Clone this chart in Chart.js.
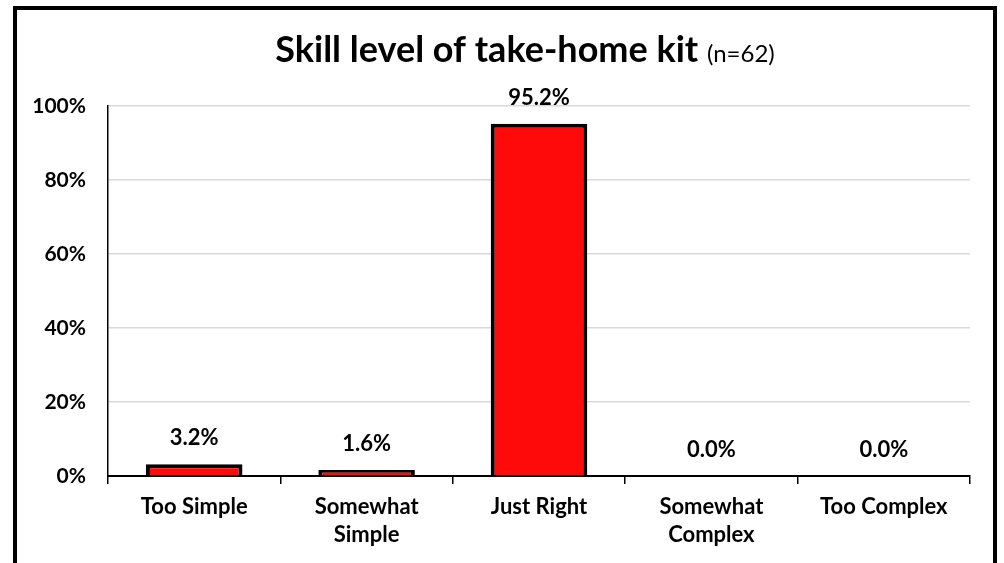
<!DOCTYPE html>
<html>
<head>
<meta charset="utf-8">
<script src="https://cdn.jsdelivr.net/npm/chart.js@4"></script>
<style>
  html, body { margin: 0; padding: 0; background: #fff; }
</style>
</head>
<body>
<canvas id="chart" width="1004" height="563"></canvas>
<script>
const categories = [['Too Simple'], ['Somewhat', 'Simple'], ['Just Right'], ['Somewhat', 'Complex'], ['Too Complex']];
const percents = [3.2, 1.6, 95.2, 0.0, 0.0];
const yTicks = [0, 20, 40, 60, 80, 100];
const titleMain = 'Skill level of take-home kit';
const titleNote = '(n=62)';

const FONT = 'Lato, "Open Sans", sans-serif';

// black frame round the whole chart
const framePlugin = {
    id: 'frame',
    afterDraw(chart) {
        const ctx = chart.ctx;
        ctx.save();
        ctx.strokeStyle = '#000';
        ctx.lineWidth = 4;
        ctx.strokeRect(15, 8, 980, 700);
        ctx.restore();
    }
};

// title with a bold part and a smaller plain part
const titlePlugin = {
    id: 'mixedTitle',
    afterDraw(chart) {
        const ctx = chart.ctx;
        ctx.save();
        ctx.fillStyle = '#000';
        ctx.textBaseline = 'alphabetic';
        ctx.font = 'bold 36px ' + FONT;
        const w1 = ctx.measureText(titleMain + ' ').width;
        ctx.font = '24px ' + FONT;
        const w2 = ctx.measureText(titleNote).width;
        let x = 525 - (w1 + w2) / 2;
        ctx.font = 'bold 36px ' + FONT;
        ctx.fillText(titleMain + ' ', x, 62);
        ctx.font = '24px ' + FONT;
        ctx.fillText(titleNote, x + w1, 62);
        ctx.restore();
    }
};

// value labels above each bar
const valueLabels = {
    id: 'valueLabels',
    afterDatasetsDraw(chart) {
        const ctx = chart.ctx;
        const meta = chart.getDatasetMeta(0);
        ctx.save();
        ctx.font = 'bold 22px ' + FONT;
        ctx.fillStyle = '#000';
        ctx.textAlign = 'center';
        ctx.textBaseline = 'middle';
        meta.data.forEach((bar, i) => {
            ctx.fillText(percents[i].toFixed(1) + '%', bar.x, bar.y - 26);
        });
        ctx.restore();
    }
};

new Chart(document.getElementById('chart'), {
    type: 'bar',
    data: {
        labels: categories,
        datasets: [{
            data: percents,
            backgroundColor: '#ff0a0a',
            borderColor: '#000',
            borderWidth: 4,
            barPercentage: 0.56,
            categoryPercentage: 1.0
        }]
    },
    options: {
        responsive: false,
        animation: false,
        devicePixelRatio: 1,
        layout: { padding: { top: 106, left: 20, right: 34, bottom: 0 } },
        plugins: {
            legend: { display: false },
            tooltip: { enabled: false }
        },
        scales: {
            x: {
                grid: {
                    offset: true,
                    drawOnChartArea: false,
                    drawTicks: true,
                    tickLength: 8,
                    color: '#000',
                    lineWidth: 1.5
                },
                border: { color: '#000', width: 2 },
                ticks: {
                    color: '#000',
                    font: { family: FONT, size: 22, weight: 'bold', lineHeight: 1.28 },
                    padding: 9,
                    maxRotation: 0
                },
                afterFit(scale) { scale.height = 87; }
            },
            y: {
                min: 0,
                max: 100,
                afterBuildTicks(scale) {
                    scale.ticks = yTicks.map(v => ({ value: v }));
                },
                ticks: {
                    color: '#000',
                    font: { family: FONT, size: 21, weight: 'bold' },
                    padding: 22,
                    callback: v => v + '%'
                },
                grid: { color: '#d9d9d9', lineWidth: 1.5, drawTicks: false },
                border: { color: '#000', width: 1.5 },
                afterFit(scale) { scale.width = 88; }
            }
        }
    },
    plugins: [framePlugin, titlePlugin, valueLabels]
});
</script>
</body>
</html>
